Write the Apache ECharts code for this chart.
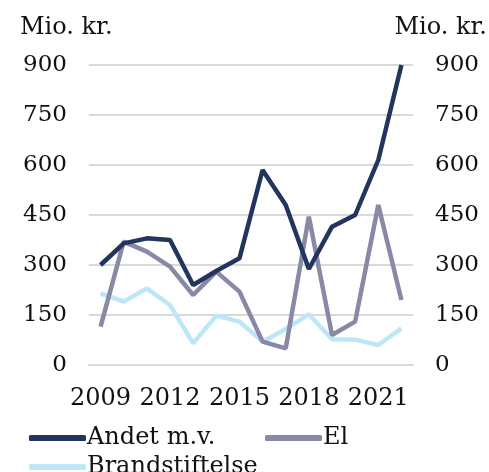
<!DOCTYPE html>
<html>
<head>
<meta charset="utf-8">
<script src="https://cdn.jsdelivr.net/npm/echarts@6/dist/echarts.min.js"></script>
<style>
  html, body { margin: 0; padding: 0; background: #fff; }
  #chart { width: 489px; height: 472px; }
</style>
</head>
<body>
<div id="chart"></div>
<script>
// år på x-aksen
const years = ['2009', '2010', '2011', '2012', '2013', '2014', '2015', '2016', '2017', '2018', '2019', '2020', '2021', '2022'];

// mio. kr. pr. år
const andet = [300, 365, 380, 375, 240, 282, 320, 585, 480, 288, 415, 450, 615, 900];
const el = [115, 370, 340, 295, 210, 280, 220, 70, 50, 445, 90, 130, 480, 195];
const brand = [215, 190, 230, 180, 65, 148, 130, 70, 108, 152, 77, 76, 60, 110];

const axisMax = 900;
const axisStep = 150;

const FONT = 'DejaVu Serif';

const myChart = echarts.init(document.getElementById('chart'));

const yAxisBase = {
  type: 'value',
  min: 0,
  max: axisMax,
  interval: axisStep,
  axisLine: { show: false },
  axisTick: { show: false },
  axisLabel: { color: '#111', fontFamily: FONT, fontSize: 23, margin: 22, padding: [5, 0, 0, 0] },
};

const legendBase = {
  icon: 'roundRect',
  itemWidth: 57,
  itemHeight: 6,
  textStyle: { color: '#111', fontFamily: FONT, fontSize: 24, padding: [0, 0, 0, -4] },
};

myChart.setOption({
  animation: false,
  color: ['#23355e', '#8789a7', '#bde6f8'],
  grid: { left: 89, right: 76, top: 65, bottom: 107 },
  graphic: [
    { type: 'text', left: 20, top: 16, style: { text: 'Mio. kr.', fontFamily: FONT, fontSize: 24, fill: '#111' } },
    { type: 'text', right: 2, top: 16, style: { text: 'Mio. kr.', fontFamily: FONT, fontSize: 24, fill: '#111' } },
  ],
  legend: [
    Object.assign({ data: ['Andet m.v.'], left: 24, top: 421 }, legendBase),
    Object.assign({ data: ['El'], left: 260, top: 421 }, legendBase),
    Object.assign({ data: ['Brandstiftelse'], left: 24, top: 450 }, legendBase),
  ],
  xAxis: {
    type: 'category',
    data: years,
    boundaryGap: true,
    axisLine: { lineStyle: { color: '#d9d9d9', width: 2 } },
    axisTick: { length: 7, lineStyle: { color: '#d9d9d9', width: 2 } },
    axisLabel: { color: '#111', fontFamily: FONT, fontSize: 24, margin: 22, interval: 2 },
  },
  yAxis: [
    Object.assign({ position: 'left', splitLine: { lineStyle: { color: '#d9d9d9', width: 2 } } }, yAxisBase),
    Object.assign({ position: 'right', splitLine: { show: false } }, yAxisBase),
  ],
  series: [
    { name: 'Andet m.v.', type: 'line', data: andet, symbol: 'none', lineStyle: { width: 4.5 }, z: 3 },
    { name: 'El', type: 'line', data: el, symbol: 'none', lineStyle: { width: 4.5 }, z: 2 },
    { name: 'Brandstiftelse', type: 'line', data: brand, symbol: 'none', lineStyle: { width: 4.5 }, z: 1 },
  ],
});
</script>
</body>
</html>
